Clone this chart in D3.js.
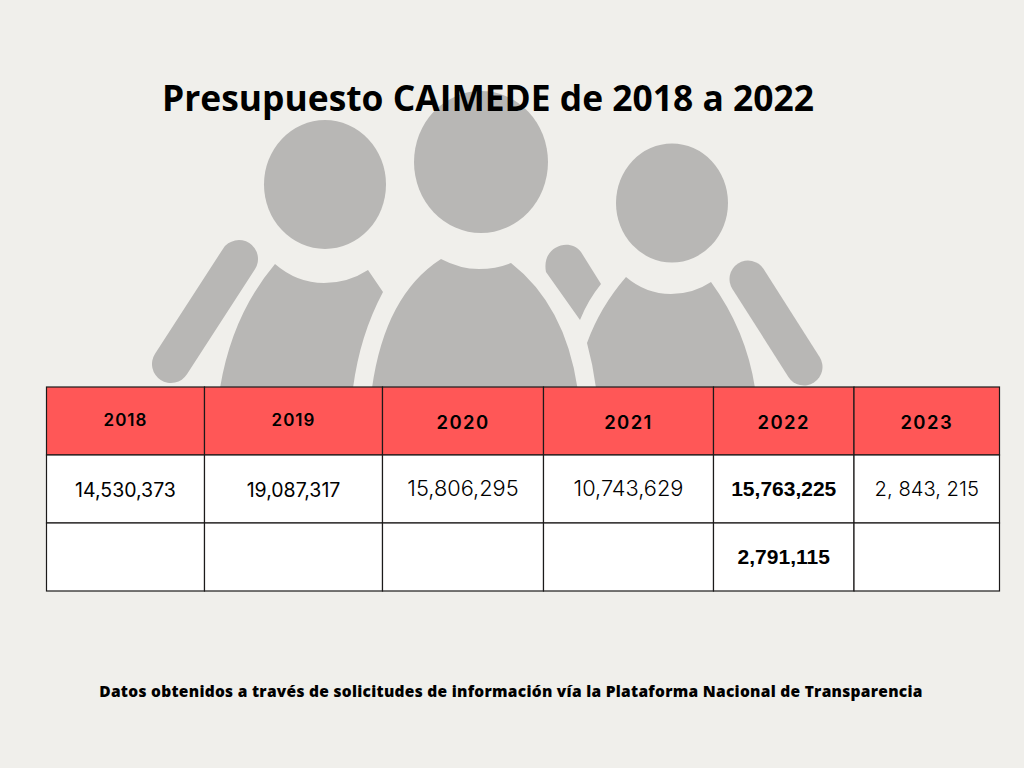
<!DOCTYPE html>
<html lang="es">
<head>
  <meta charset="UTF-8">
  <title>Presupuesto CAIMEDE</title>
  <script src="https://d3js.org/d3.v7.min.js"></script>
  <style>
    html, body { margin: 0; padding: 0; background: #f0efeb; }
    svg { display: block; }
    text { fill: #000; }
  </style>
</head>
<body>
  <svg id="chart" width="1024" height="768"></svg>
  <script>
    // datos
    const years = ['2018', '2019', '2020', '2021', '2022', '2023'];
    const presupuesto = ['14,530,373', '19,087,317', '15,806,295', '10,743,629', '15,763,225', '2, 843, 215'];
    const segundaFila = ['', '', '', '', '2,791,115', ''];
    const titulo = 'Presupuesto CAIMEDE de 2018 a 2022';
    const fuente = 'Datos obtenidos a través de solicitudes de información vía la Plataforma Nacional de Transparencia';

    // layout
    const colEdges = [46.5, 204.5, 382.5, 543.5, 713.5, 854, 999.5];
    const rowNames = ['head', 'a', 'b'];
    const gray = '#b8b7b5', red = '#ff5757', lineColor = '#1c1a1a';

    const svg = d3.select('#chart');
    const x0 = d3.scaleOrdinal(years, colEdges.slice(0, -1));
    const x1 = d3.scaleOrdinal(years, colEdges.slice(1));
    const y = d3.scaleBand(rowNames, [387, 591]);

    // figuras de fondo
    const fig = svg.append('g').attr('fill', gray);
    fig.selectAll('ellipse')
      .data([[325, 184.5, 61, 64.5], [481, 162, 67, 71], [672, 203, 56, 59.5]])
      .join('ellipse')
      .attr('cx', d => d[0]).attr('cy', d => d[1])
      .attr('rx', d => d[2]).attr('ry', d => d[3]);
    fig.selectAll('line')
      .data([[239, 259, 171, 364, 38], [748, 279, 804, 367, 37]])
      .join('line')
      .attr('x1', d => d[0]).attr('y1', d => d[1])
      .attr('x2', d => d[2]).attr('y2', d => d[3])
      .attr('stroke', gray)
      .attr('stroke-width', d => d[4])
      .attr('stroke-linecap', 'round');
    fig.selectAll('path')
      .data([
        'M275,264 Q297,283 324,283 Q348,283 368,270 L383,292 Q360,335 353,388 L220,388 Q232,315 275,264 Z',
        'M441,259 Q460,269 479,269 Q496,269 511,263 Q565,305 577.5,388 L372,388 Q385,295 441,259 Z',
        'M626,277 Q646,294 671,294 Q693,294 711,282 Q746,330 755,388 L596,388 Q593,365 587,343 Q600,307 626,277 Z',
        'M601,284 L581,252 C570,237 541,246 546,272 L580,320 Q588,300 601,284 Z'
      ])
      .join('path')
      .attr('d', d => d);

    // tabla
    const table = svg.append('g');
    rowNames.forEach(r => {
      table.selectAll('rect.' + r)
        .data(years)
        .join('rect')
        .attr('class', r)
        .attr('x', d => x0(d))
        .attr('y', y(r))
        .attr('width', d => x1(d) - x0(d))
        .attr('height', y.bandwidth())
        .attr('fill', r === 'head' ? red : '#fff')
        .attr('stroke', lineColor)
        .attr('stroke-width', 1.2);
    });

    const cx = d => (x0(d) + x1(d)) / 2;
    const smallHead = ['2018', '2019'];
    table.selectAll('text.head')
      .data(years)
      .join('text')
      .attr('class', 'head')
      .attr('x', cx)
      .attr('y', d => smallHead.includes(d) ? 426 : 428.5)
      .attr('text-anchor', 'middle')
      .attr('font-family', 'Inter, sans-serif')
      .attr('font-weight', 600)
      .attr('font-size', d => smallHead.includes(d) ? 17 : 18.5)
      .attr('letter-spacing', d => smallHead.includes(d) ? 1 : 1.4)
      .text(d => d);

    const medium = ['2018', '2019'];
    const bold = ['2022'];
    const cellFont = d => bold.includes(d) ? '"Liberation Sans", Arial, sans-serif' : 'Inter, sans-serif';
    const cellWeight = d => bold.includes(d) ? 700 : medium.includes(d) ? 400 : 300;
    const cellSize = d => bold.includes(d) ? 21 : medium.includes(d) ? 19.5 : d === '2023' ? 20.2 : 21.8;
    const drawRow = (values, cls, baseline) => {
      table.selectAll('text.' + cls)
        .data(years.map((yr, i) => ({ yr, v: values[i] })))
        .join('text')
        .attr('class', cls)
        .attr('x', d => cx(d.yr))
        .attr('y', d => baseline + (medium.includes(d.yr) ? 0.5 : 0))
        .attr('text-anchor', 'middle')
        .attr('font-family', d => cellFont(d.yr))
        .attr('font-weight', d => cellWeight(d.yr))
        .attr('font-size', d => cellSize(d.yr))
        .text(d => d.v);
    };
    drawRow(presupuesto, 'a', 496);
    drawRow(segundaFila, 'b', 564);

    // textos
    svg.append('text')
      .attr('x', 488).attr('y', 111)
      .attr('text-anchor', 'middle')
      .attr('font-family', '"Open Sans", sans-serif')
      .attr('font-weight', 700)
      .attr('font-size', 35.4)
      .text(titulo);
    svg.append('text')
      .attr('x', 511).attr('y', 696.5)
      .attr('text-anchor', 'middle')
      .attr('font-family', '"Open Sans", sans-serif')
      .attr('font-weight', 800)
      .attr('font-size', 15.5)
      .attr('letter-spacing', 0.28)
      .text(fuente);
  </script>
</body>
</html>
